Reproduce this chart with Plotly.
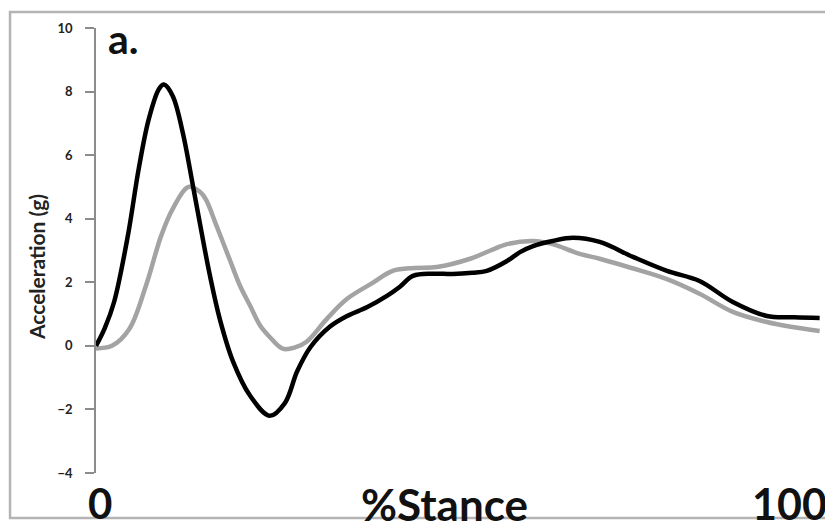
import plotly.graph_objects as go

# Data
x_black = [0, 1.2, 2.5, 4.4, 5.9, 7.3, 8.7, 9.4, 10.6, 12.0, 13.4, 14.5, 15.7, 17.1, 18.9, 21.3,
           24.0, 26.1, 27.8, 29.6, 32.3, 34.7, 37.5, 40.2, 42.0, 43.8, 46.5, 49.3, 52.0, 54.0,
           56.8, 58.6, 60.4, 63.1, 65.9, 69.6, 74.2, 78.9, 83.4, 88.0, 92.7, 96.5, 100]
y_black = [0, 0.55, 1.38, 3.46, 5.57, 7.14, 8.08, 8.22, 7.86, 6.7, 5.03, 3.68, 2.26, 0.85, -0.47, -1.57,
           -2.2, -1.8, -0.8, -0.05, 0.6, 0.94, 1.22, 1.57, 1.86, 2.2, 2.27, 2.26, 2.3, 2.36,
           2.67, 2.95, 3.14, 3.3, 3.4, 3.27, 2.8, 2.36, 2.04, 1.38, 0.94, 0.9, 0.88]

x_gray = [0, 2.2, 4.6, 6.9, 9.0, 10.6, 12.8, 14.4, 15.2, 16.7, 18.5, 19.9, 21.3, 22.7, 24.0, 25.8,
          27.5, 29.1, 31.9, 34.7, 38.0, 41.0, 44.0, 47.1, 51.7, 54.5, 56.8, 60.4, 63.1, 66.5,
          69.6, 74.0, 78.9, 83.4, 88.0, 92.7, 96.0, 100]
y_gray = [-0.08, 0.0, 0.53, 1.89, 3.46, 4.31, 5.0, 4.84, 4.6, 3.75, 2.7, 1.89, 1.26, 0.63, 0.28, -0.09,
          -0.05, 0.13, 0.85, 1.48, 1.95, 2.36, 2.45, 2.48, 2.74, 3.0, 3.2, 3.3, 3.2, 2.92,
          2.74, 2.45, 2.1, 1.64, 1.07, 0.75, 0.6, 0.47]

y_ticks = [-4, -2, 0, 2, 4, 6, 8, 10]
x_labels = ["0", "100"]
x_title = "%Stance"
y_title = "Acceleration (g)"
panel_label = "a."

# page body has an 8px margin, so the figure is drawn 8px in from the window corner
OFF = 8
W, H = 833 - OFF, 529 - OFF
L, R, T, B = 96 - OFF, 824.3 - OFF, 28 - OFF, 473 - OFF


def px(xp):
    return (xp - OFF - L) / (R - L)


def py(yp):
    return (B - (yp - OFF)) / (B - T)


fig = go.Figure()
fig.add_trace(go.Scatter(x=x_gray, y=y_gray, mode="lines",
                         line=dict(color="#a3a3a3", width=4.5, shape="spline", smoothing=1),
                         showlegend=False))
fig.add_trace(go.Scatter(x=x_black, y=y_black, mode="lines",
                         line=dict(color="#000000", width=4.5, shape="spline", smoothing=1),
                         showlegend=False))

font_main = "Lato, 'Open Sans', sans-serif"

fig.update_layout(
    width=W, height=H,
    margin=dict(l=L, r=W - R, t=T, b=H - B),
    paper_bgcolor="white", plot_bgcolor="white",
    xaxis=dict(range=[0, 100.6], showgrid=False, zeroline=False, showline=False,
               showticklabels=False, ticks=""),
    yaxis=dict(range=[-4, 10], tickvals=y_ticks, showgrid=False, zeroline=False,
               showline=True, linecolor="#8c8c8c", linewidth=1.5,
               ticks="outside", ticklen=9, tickcolor="#8c8c8c", tickwidth=1.5,
               ticklabelstandoff=10,
               tickfont=dict(family=font_main, size=13, color="#222222", weight="bold")),
    shapes=[dict(type="rect", xref="paper", yref="paper",
                 x0=px(10), x1=px(829), y0=py(518), y1=py(12),
                 line=dict(color="#b4b4b4", width=2.5), fillcolor="rgba(0,0,0,0)", layer="below")],
    annotations=[
        dict(text=panel_label, xref="paper", yref="paper", x=px(106), y=py(38),
             xanchor="left", yanchor="middle", showarrow=False,
             font=dict(family=font_main, size=41, color="#111111", weight="bold")),
        dict(text=x_labels[0], xref="paper", yref="paper", x=px(100), y=py(503),
             xanchor="center", yanchor="middle", showarrow=False,
             font=dict(family=font_main, size=42, color="#111111", weight="bold")),
        dict(text=x_labels[1], xref="paper", yref="paper", x=px(829), y=py(503),
             xanchor="right", yanchor="middle", showarrow=False,
             font=dict(family=font_main, size=43, color="#111111", weight="bold")),
        dict(text=x_title, xref="paper", yref="paper", x=px(445), y=py(504),
             xanchor="center", yanchor="middle", showarrow=False,
             font=dict(family=font_main, size=44, color="#111111", weight="bold")),
        dict(text=y_title, xref="paper", yref="paper", x=px(36), y=py(267),
             xanchor="center", yanchor="middle", showarrow=False, textangle=-90,
             font=dict(family=font_main, size=21, color="#222222", weight="bold")),
    ],
)

fig.write_html("out.html")
